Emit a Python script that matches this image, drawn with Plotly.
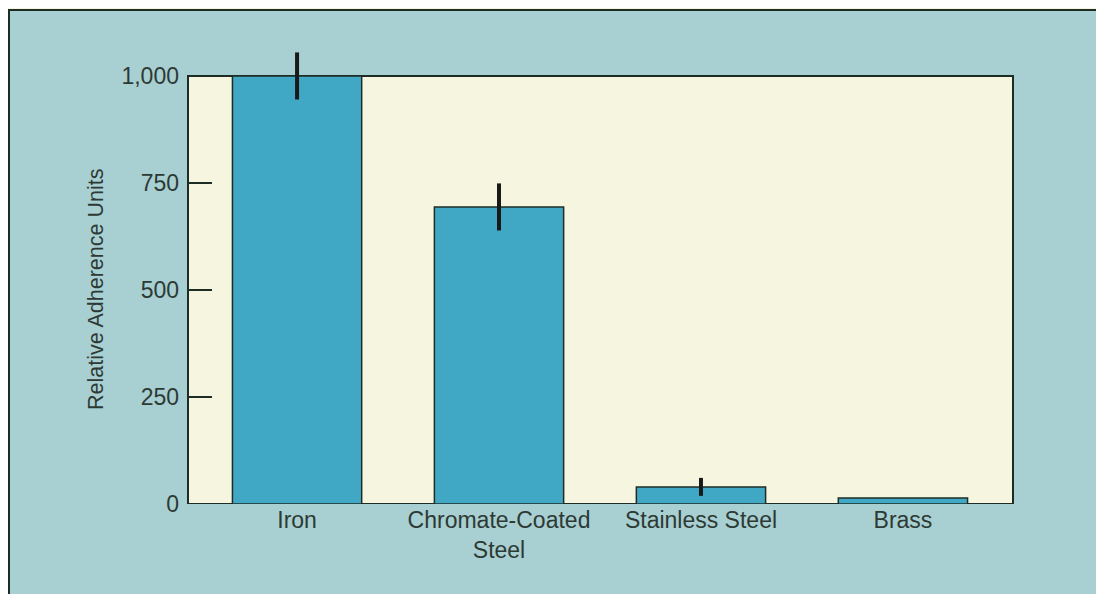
import plotly.graph_objects as go

categories = ["Iron", "Chromate-Coated<br>Steel", "Stainless Steel", "Brass"]
values = [1000, 694, 40, 14]
errors = [55, 55, 21, 0]
y_ticks = [0, 250, 500, 750, 1000]
y_tick_labels = ["0", "250", "500", "750", "1,000"]
y_frame_top = 1000
y_title = "Relative Adherence Units"

TEAL = "rgb(168,207,210)"
CREAM = "rgb(246,246,224)"
BAR = "rgb(64,168,196)"
DARK = "rgb(30,44,38)"
TEXT = "rgb(45,58,52)"

x_pos = list(range(len(categories)))

W, H = 1104, 594
L, R, T, B = 180, 99, 38, 98
pw, ph = W - L - R, H - T - B


def px_x(x):
    return (x - L) / pw


def px_y(y):
    return (H - B - y) / ph


fig = go.Figure()
fig.add_trace(go.Bar(
    x=x_pos,
    y=values,
    width=0.64,
    marker=dict(color=BAR, line=dict(color=DARK, width=1.5)),
    error_y=dict(type="data", array=errors, visible=True,
                 thickness=4, width=0, color="rgb(25,25,25)"),
))

# outer teal panel with dark border
fig.add_shape(type="rect", xref="paper", yref="paper",
              x0=px_x(1), x1=px_x(1200), y0=px_y(700), y1=px_y(2),
              fillcolor=TEAL, line=dict(color=DARK, width=2), layer="below")
# cream plotting frame up to 1,000
fig.add_shape(type="rect", xref="paper", yref="y",
              x0=0, x1=1, y0=0, y1=y_frame_top,
              fillcolor=CREAM, line=dict(color=DARK, width=2), layer="below")

fig.add_annotation(text=y_title, xref="paper", yref="y",
                   x=px_x(88), y=y_frame_top / 2, xanchor="center", yanchor="middle",
                   textangle=-90, showarrow=False, font=dict(size=21.5, color=TEXT))

fig.update_layout(
    width=W, height=H,
    margin=dict(l=L, r=R, t=T, b=B, pad=0),
    paper_bgcolor=CREAM,
    plot_bgcolor="rgba(0,0,0,0)",
    showlegend=False,
    font=dict(family="Liberation Sans, Arial, sans-serif", size=23, color=TEXT),
    xaxis=dict(
        range=[-0.54, 3.545],
        tickvals=x_pos, ticktext=categories,
        ticks="", showline=False,
        showgrid=False, zeroline=False, tickfont=dict(size=23),
    ),
    yaxis=dict(
        range=[0, 1070],
        tickvals=y_ticks, ticktext=y_tick_labels,
        ticks="inside", ticklen=24, tickwidth=1.5, tickcolor=DARK,
        ticklabelstandoff=8,
        showline=False,
        showgrid=False, zeroline=False, tickfont=dict(size=23),
    ),
)

fig.write_html("out.html")
